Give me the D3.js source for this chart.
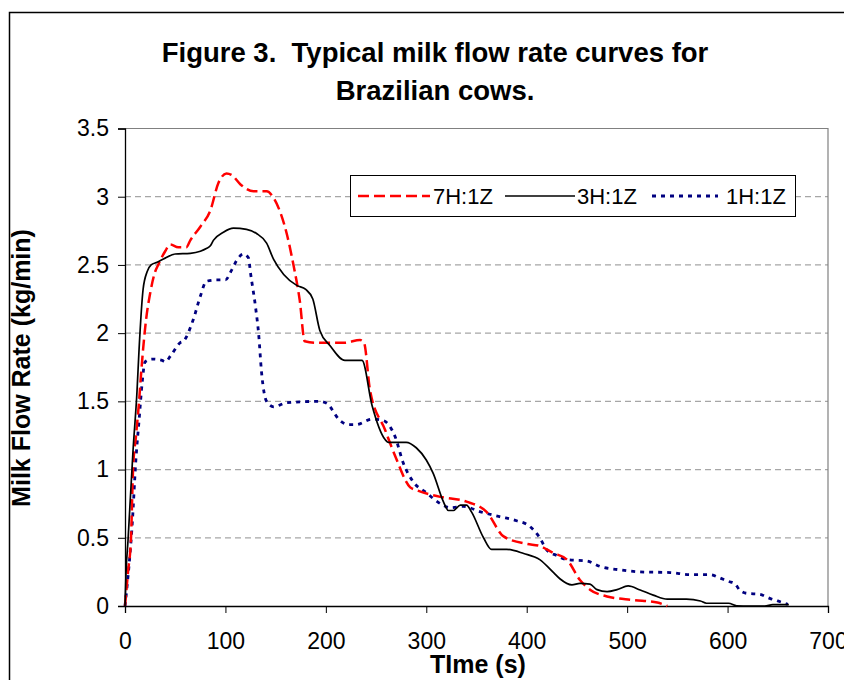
<!DOCTYPE html>
<html>
<head>
<meta charset="utf-8">
<script src="https://cdn.jsdelivr.net/npm/d3@7"></script>
<style>
  html, body { margin: 0; padding: 0; background: #fff; }
  svg { display: block; font-family: Arial, "Liberation Sans", sans-serif; }
</style>
</head>
<body>
<svg id="chart" width="844" height="680"></svg>
<script>
// ---- Data ----
const xTicks = [0, 100, 200, 300, 400, 500, 600, 700];
const yTicks = [0, 0.5, 1, 1.5, 2, 2.5, 3, 3.5];
const seriesNames = ["7H:1Z", "3H:1Z", "1H:1Z"];

const t7H = [0,3,6,8,11,14,16,18,21,25,30,33,40,45,53,61,65,75,85,93,101,106,115,128,141,148,161,168,174,179,190,219,234,238,244,259,269,284,290,314,340,360,377,400,413,426,440,453,463,480,506,530,540];
const v7H = [0,0.25,0.5,1.0,1.25,1.5,1.7,1.88,2.1,2.29,2.45,2.5,2.6,2.65,2.63,2.63,2.68,2.78,2.9,3.1,3.17,3.16,3.09,3.04,3.04,2.99,2.73,2.49,2.24,1.94,1.93,1.93,1.95,1.93,1.58,1.29,1.1,0.87,0.85,0.80,0.765,0.69,0.51,0.455,0.44,0.39,0.34,0.19,0.12,0.07,0.044,0.025,0.0];

const t3H = [0,1,3,8,12,14,18,22,26,32,40,50,65,75,81,85,88,98,108,121,131,141,148,158,171,180,187,194,204,219,236,246,259,262,280,290,300,307,317,322,327,334,340,345,357,365,380,397,413,426,433,445,453,463,470,480,490,501,513,526,540,559,573,579,601,609,622,637,645,661];
const v3H = [0,0.24,0.48,1.14,1.58,1.88,2.32,2.45,2.5,2.52,2.55,2.58,2.585,2.6,2.62,2.64,2.68,2.74,2.77,2.76,2.73,2.66,2.54,2.43,2.35,2.32,2.25,2.02,1.91,1.80,1.80,1.47,1.22,1.20,1.20,1.16,1.07,0.97,0.765,0.70,0.70,0.74,0.74,0.69,0.50,0.415,0.415,0.385,0.34,0.25,0.20,0.155,0.166,0.16,0.12,0.105,0.12,0.147,0.117,0.08,0.05,0.05,0.037,0.02,0.02,0.002,0,0,0.01,0.01];

const t1H = [0,2,7,11,14,17,20,27,37,40,46,55,58,68,75,81,91,100,106,111,118,123,125,130,133,136,141,148,161,194,201,214,222,230,246,257,269,277,287,300,314,324,337,354,373,390,402,413,420,430,440,460,473,493,513,543,562,573,583,591,601,607,612,619,632,642,650,660];
const v1H = [0,0.14,0.58,1.09,1.36,1.63,1.79,1.81,1.80,1.79,1.84,1.93,1.94,2.10,2.27,2.38,2.39,2.39,2.46,2.53,2.58,2.55,2.44,2.19,2.0,1.71,1.50,1.46,1.49,1.50,1.485,1.36,1.33,1.33,1.37,1.36,1.24,1.05,0.91,0.83,0.75,0.72,0.73,0.69,0.655,0.625,0.59,0.50,0.41,0.37,0.34,0.33,0.29,0.265,0.25,0.245,0.23,0.23,0.23,0.21,0.18,0.166,0.117,0.093,0.086,0.056,0.037,0.012];

// ---- Layout ----
const svg = d3.select("#chart");
const L = 125, R = 828, T = 128.5, B = 606;
const x = d3.scaleLinear().domain([0, 700]).range([L, R]);
const y = d3.scaleLinear().domain([0, 3.5]).range([B, T]);

// outer frame
svg.append("rect").attr("x", 9.5).attr("y", 12.5).attr("width", 900).attr("height", 700)
  .attr("fill", "none").attr("stroke", "#000").attr("stroke-width", 1.5);

// title
const title = svg.append("text").attr("text-anchor", "middle")
  .attr("font-weight", "bold").attr("font-size", 27.5).attr("fill", "#000")
  .style("white-space", "pre");
title.append("tspan").attr("x", 435).attr("y", 62).text("Figure 3.  Typical milk flow rate curves for");
title.append("tspan").attr("x", 435).attr("y", 100).text("Brazilian cows.");

// gridlines
svg.append("g").selectAll("line").data(yTicks.filter(d => d > 0 && d < 3.5)).join("line")
  .attr("x1", L).attr("x2", R).attr("y1", d => y(d)).attr("y2", d => y(d))
  .attr("stroke", "#A6A6A6").attr("stroke-width", 1.2).attr("stroke-dasharray", "6,4");

// plot area top/right border
svg.append("path").attr("d", `M${L},${T}H${R}V${B}`).attr("fill", "none")
  .attr("stroke", "#808080").attr("stroke-width", 1.2);

// axes
const yAxis = d3.axisLeft(y).tickValues(yTicks).tickSize(7).tickPadding(9)
  .tickFormat(d => d3.format("")(d));
const gy = svg.append("g").attr("transform", `translate(${L},0)`).call(yAxis);
gy.select(".domain").attr("stroke", "#000").attr("stroke-width", 1.3);
gy.selectAll(".tick line").attr("stroke", "#000");
gy.selectAll("text").attr("font-size", 23).attr("font-family", "Arial, 'Liberation Sans', sans-serif").attr("fill", "#000");

const xAxis = d3.axisBottom(x).tickValues(xTicks).tickSize(7).tickPadding(20);
const gx = svg.append("g").attr("transform", `translate(0,${B})`).call(xAxis);
gx.select(".domain").attr("stroke", "#000").attr("stroke-width", 1.3);
gx.selectAll(".tick line").attr("stroke", "#000");
gx.selectAll("text").attr("font-size", 23).attr("font-family", "Arial, 'Liberation Sans', sans-serif").attr("fill", "#000");

// axis titles
svg.append("text").attr("transform", "translate(30,368) rotate(-90)")
  .attr("text-anchor", "middle").attr("font-weight", "bold").attr("font-size", 25)
  .text("Milk Flow Rate (kg/min)");
svg.append("text").attr("x", 478).attr("y", 673).attr("text-anchor", "middle")
  .attr("font-weight", "bold").attr("font-size", 25).text("TIme (s)");

// series
const styles = [
  { color: "#FF0000", width: 2.5, dash: "11,5" },
  { color: "#000000", width: 1.7, dash: null },
  { color: "#000080", width: 2.8, dash: "4,5" }
];
const data = [
  d3.zip(t7H, v7H), d3.zip(t3H, v3H), d3.zip(t1H, v1H)
];
const line = d3.line().x(d => x(d[0])).y(d => y(d[1])).curve(d3.curveMonotoneX);
const order = [2, 0, 1];
order.forEach(i => {
  svg.append("path").datum(data[i]).attr("d", line)
    .attr("fill", "none").attr("stroke", styles[i].color)
    .attr("stroke-width", styles[i].width)
    .attr("stroke-dasharray", styles[i].dash)
    .attr("stroke-linejoin", "round");
});

// legend
const lg = svg.append("g");
lg.append("rect").attr("x", 350.5).attr("y", 175.5).attr("width", 445).attr("height", 41)
  .attr("fill", "#fff").attr("stroke", "#000").attr("stroke-width", 1);
const legItems = [
  { x1: 358, x2: 430, tx: 433 },
  { x1: 505, x2: 575, tx: 577 },
  { x1: 652, x2: 718, tx: 726 }
];
legItems.forEach((it, i) => {
  lg.append("line").attr("x1", it.x1).attr("x2", it.x2).attr("y1", 196).attr("y2", 196)
    .attr("stroke", styles[i].color).attr("stroke-width", styles[i].width)
    .attr("stroke-dasharray", styles[i].dash);
  lg.append("text").attr("x", it.tx).attr("y", 203.5).attr("font-size", 22)
    .attr("fill", "#000").text(seriesNames[i]);
});
</script>
</body>
</html>
